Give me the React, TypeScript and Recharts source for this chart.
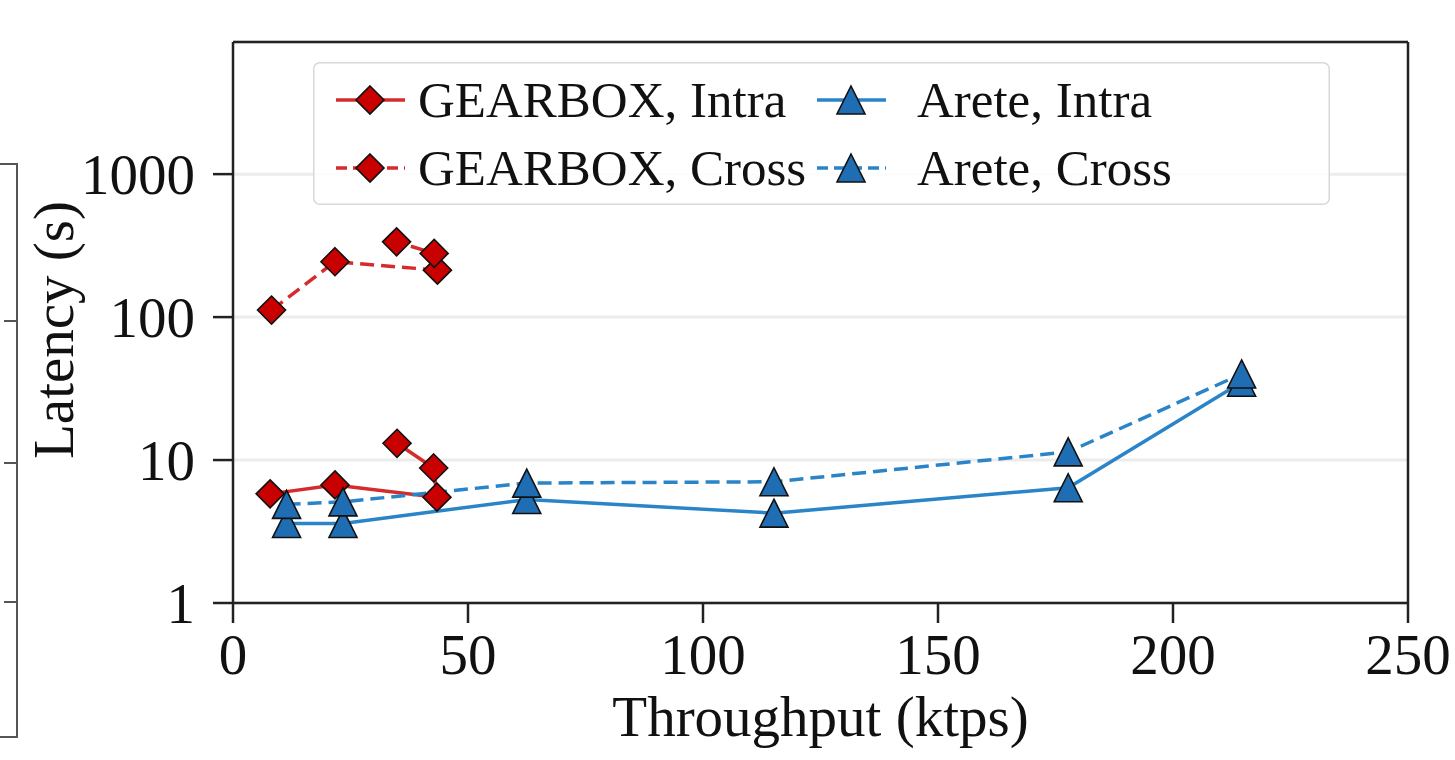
import { LineChart, Line, XAxis, YAxis, CartesianGrid, ReferenceLine, Legend } from 'recharts';

const FONT = '"Liberation Serif", "Times New Roman", serif';
const TICK_FONT = 57;
const LEGEND_FONT = 51;

const X_TICKS = [0, 50, 100, 150, 200, 250];
const Y_TICKS = [1, 10, 100, 1000];
const Y_MAX = 8400;

// GEARBOX points are listed in run order, not sorted by throughput
const gearboxIntraTput = [7.9, 21.7, 43.4, 42.7, 34.9];
const gearboxIntraLat = [5.8, 6.7, 5.5, 8.8, 13.1];
const gearboxCrossTput = [8.2, 21.7, 43.5, 42.8, 34.8];
const gearboxCrossLat = [112, 244, 213, 279, 336];
const areteIntraTput = [11.4, 23.4, 62.5, 115.1, 177.7, 214.6];
const areteIntraLat = [3.6, 3.6, 5.3, 4.25, 6.4, 35];
const areteCrossTput = [11.4, 23.4, 62.5, 115.1, 177.7, 214.6];
const areteCrossLat = [4.9, 5.1, 6.9, 7.05, 11.4, 40];

const RED_LINE = '#d42c2c';
const RED_FILL = '#c80000';
const BLUE_LINE = '#2a84c8';
const BLUE_FILL = '#1f6db2';
const DASH = '14 7';

type Marker = 'diamond' | 'triangle';

interface SeriesDef {
  name: string;
  tput: number[];
  lat: number[];
  line: string;
  fill: string;
  dashed: boolean;
  marker: Marker;
}

const SERIES: SeriesDef[] = [
  { name: 'GEARBOX, Intra', tput: gearboxIntraTput, lat: gearboxIntraLat, line: RED_LINE, fill: RED_FILL, dashed: false, marker: 'diamond' },
  { name: 'GEARBOX, Cross', tput: gearboxCrossTput, lat: gearboxCrossLat, line: RED_LINE, fill: RED_FILL, dashed: true, marker: 'diamond' },
  { name: 'Arete, Intra', tput: areteIntraTput, lat: areteIntraLat, line: BLUE_LINE, fill: BLUE_FILL, dashed: false, marker: 'triangle' },
  { name: 'Arete, Cross', tput: areteCrossTput, lat: areteCrossLat, line: BLUE_LINE, fill: BLUE_FILL, dashed: true, marker: 'triangle' },
];

function MarkerShape({ cx, cy, fill, marker }: { cx: number; cy: number; fill: string; marker: Marker }) {
  if (marker === 'diamond') {
    const r = 14;
    return (
      <path
        d={`M${cx},${cy - r}L${cx + r},${cy}L${cx},${cy + r}L${cx - r},${cy}Z`}
        fill={fill}
        stroke="#111"
        strokeWidth={1.6}
      />
    );
  }
  const h = 14;
  return (
    <path
      d={`M${cx},${cy - h}L${cx + h},${cy + h}L${cx - h},${cy + h}Z`}
      fill={fill}
      stroke="#111"
      strokeWidth={1.6}
      strokeLinejoin="miter"
    />
  );
}

function LegendBox() {
  const cols = [
    { handle: 23, text: 105 },
    { handle: 504, text: 604 },
  ];
  const rows = [38, 106];
  const order = [
    [0, 2],
    [1, 3],
  ];
  return (
    <svg width={1017} height={143} style={{ display: 'block', overflow: 'visible' }}>
      <rect
        x={0.75}
        y={0.75}
        width={1015.5}
        height={141.5}
        rx={6}
        fill="#ffffff"
        fillOpacity={0.85}
        stroke="#d8d8d8"
        strokeWidth={1.5}
      />
      {rows.map((ry, r) =>
        cols.map((c, ci) => {
          const s = SERIES[order[r][ci]];
          return (
            <g key={s.name}>
              <line
                x1={c.handle}
                x2={c.handle + 69}
                y1={ry}
                y2={ry}
                stroke={s.line}
                strokeWidth={3.5}
                strokeDasharray={s.dashed ? '11 6' : undefined}
              />
              <MarkerShape cx={c.handle + 34} cy={ry} fill={s.fill} marker={s.marker} />
              <text
                x={c.text}
                y={ry + 17}
                fontFamily={FONT}
                fontSize={LEGEND_FONT}
                fill="#111"
              >
                {s.name}
              </text>
            </g>
          );
        }),
      )}
    </svg>
  );
}

function YTitle() {
  return (
    <text
      transform="translate(73,330) rotate(-90)"
      textAnchor="middle"
      fontFamily={FONT}
      fontSize={TICK_FONT}
      fill="#111"
    >
      Latency (s)
    </text>
  );
}

export default function App() {
  return (
    <div style={{ position: 'absolute', left: 0, top: 0, width: 1455, height: 760, background: '#fff' }}>
      {/* edge of the neighbouring panel, cut off at the left */}
      <div
        style={{
          position: 'absolute',
          left: 0,
          top: 163,
          width: 16,
          height: 571,
          borderTop: '2px solid #555',
          borderRight: '2px solid #555',
          borderBottom: '2px solid #555',
        }}
      />
      {[320, 462, 601].map((y) => (
        <div key={y} style={{ position: 'absolute', left: 4, top: y, width: 14, height: 2, background: '#555' }} />
      ))}
      <LineChart width={1455} height={760} margin={{ top: 42, right: 47, bottom: 0, left: 0 }}>
        <CartesianGrid vertical={false} stroke="#ececec" strokeWidth={3} />
        <XAxis
          type="number"
          dataKey="x"
          domain={[0, 250]}
          ticks={X_TICKS}
          allowDataOverflow
          height={157}
          tickSize={20}
          tickMargin={11}
          stroke="#222"
          strokeWidth={2.5}
          tick={{ fontFamily: FONT, fontSize: TICK_FONT, fill: '#111' }}
          label={{
            value: 'Throughput (ktps)',
            position: 'insideBottom',
            offset: 24,
            fontFamily: FONT,
            fontSize: TICK_FONT,
            fill: '#111',
          }}
        />
        <YAxis
          type="number"
          dataKey="y"
          scale="log"
          domain={[1, Y_MAX]}
          ticks={Y_TICKS}
          allowDataOverflow
          width={233}
          tickSize={20}
          tickMargin={18}
          stroke="#222"
          strokeWidth={2.5}
          tick={{ fontFamily: FONT, fontSize: TICK_FONT, fill: '#111' }}
          label={{ content: () => <YTitle /> }}
        />
        <ReferenceLine x={250} stroke="#222" strokeWidth={2.5} />
        <ReferenceLine y={Y_MAX} stroke="#222" strokeWidth={2.5} />
        <Legend
          layout="horizontal"
          verticalAlign="middle"
          align="center"
          content={() => <LegendBox />}
          wrapperStyle={{ position: 'absolute', left: 313, top: 62, width: 1017, height: 143 }}
        />
        {SERIES.map((s) => (
          <Line
            key={s.name}
            name={s.name}
            data={s.tput.map((x, i) => ({ x, y: s.lat[i] }))}
            dataKey="y"
            type="linear"
            stroke={s.line}
            strokeWidth={3.5}
            strokeDasharray={s.dashed ? DASH : undefined}
            dot={(p: any) => <MarkerShape key={`${s.name}-${p.index}`} cx={p.cx} cy={p.cy} fill={s.fill} marker={s.marker} />}
            activeDot={false}
            isAnimationActive={false}
          />
        ))}
      </LineChart>
    </div>
  );
}
